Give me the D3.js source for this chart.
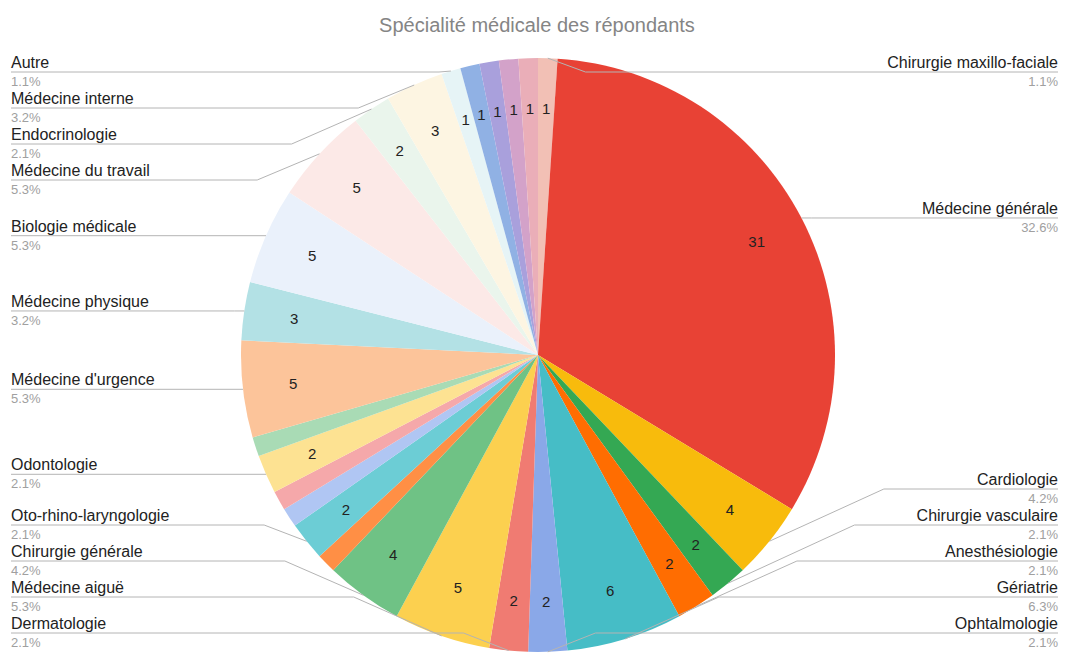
<!DOCTYPE html>
<html>
<head>
<meta charset="utf-8">
<script src="https://cdn.jsdelivr.net/npm/d3@7"></script>
<style>
  body { margin: 0; background: #fff; }
  svg { display: block; }
  text { font-family: "Liberation Sans", Arial, sans-serif; }
</style>
</head>
<body>
<svg id="chart" width="1066" height="653"></svg>
<script>
// Répartition des répondants par spécialité (ordre des parts, sens horaire depuis midi)
const specialites = [
  "Chirurgie maxillo-faciale", "Médecine générale", "Cardiologie", "Chirurgie vasculaire",
  "Anesthésiologie", "Gériatrie", "Ophtalmologie", "Dermatologie", "Médecine aiguë",
  "Chirurgie générale", "", "Oto-rhino-laryngologie", "", "", "Odontologie", "",
  "Médecine d'urgence", "Médecine physique", "Biologie médicale", "Médecine du travail",
  "Endocrinologie", "Médecine interne", "Autre", "", "", "", ""
];
const effectifs = [1, 31, 4, 2, 2, 6, 2, 2, 5, 4, 1, 2, 1, 1, 2, 1, 5, 3, 5, 5, 2, 3, 1, 1, 1, 1, 1];
const couleurs = [
  "#f2c0b5", "#e84235", "#f8bb0c", "#34a853", "#ff6d01", "#46bdc6", "#8aa8e8", "#f07b72",
  "#fcd04f", "#6fc285", "#ff8f45", "#6ccdd5", "#b0c6f3", "#f5a8aa", "#fde292", "#a9dbb5",
  "#fcc49a", "#b3e1e5", "#eaf1fb", "#fce9e7", "#eaf5ec", "#fdf5e2", "#e6f4f6",
  "#90b1e4", "#a9a0dc", "#d3a2c9", "#eaaeb8"
];
// parts trop fines pour porter leur effectif
const sansEffectif = [10, 12, 13, 15];
const titre = "Spécialité médicale des répondants";

const svg = d3.select("#chart");
const W = 1066;
const cx = 538, cy = 355, R = 297;

svg.append("text")
  .attr("x", 537).attr("y", 32)
  .attr("text-anchor", "middle")
  .attr("font-size", 20)
  .attr("fill", "#858585")
  .text(titre);

const total = d3.sum(effectifs);
const pie = d3.pie().sort(null).value(d => d);
const arcs = pie(effectifs);
const arc = d3.arc().innerRadius(0).outerRadius(R);

const g = svg.append("g").attr("transform", `translate(${cx},${cy})`);
g.selectAll("path.part")
  .data(arcs)
  .join("path")
  .attr("class", "part")
  .attr("d", arc)
  .attr("fill", (d, i) => couleurs[i]);

// effectifs écrits dans les parts
const arcTexte = d3.arc().innerRadius(R * 0.83).outerRadius(R * 0.83);
g.selectAll("text.val")
  .data(arcs.filter((d, i) => !sansEffectif.includes(i)))
  .join("text")
  .attr("class", "val")
  .attr("transform", d => `translate(${arcTexte.centroid(d)})`)
  .attr("text-anchor", "middle")
  .attr("dy", "0.35em")
  .attr("font-size", 15)
  .attr("fill", "#222")
  .text(d => d.value);

// étiquettes extérieures avec traits de rappel
const pct = d3.format(".1f");
const items = arcs.map((d, i) => {
  const a = (d.startAngle + d.endAngle) / 2;
  const px = cx + R * Math.sin(a), py = cy - R * Math.cos(a);
  return { i, nom: specialites[i], val: d.value, px, py, y0: py, gauche: Math.sin(a) < 0 };
}).filter(it => it.nom);

function repartir(liste, haut, bas, ecart) {
  liste.sort((a, b) => a.y0 - b.y0);
  let prec = haut - ecart;
  liste.forEach(it => { it.y = Math.max(it.y0, prec + ecart); prec = it.y; });
  let suiv = bas + ecart;
  for (let k = liste.length - 1; k >= 0; k--) {
    liste[k].y = Math.min(liste[k].y, suiv - ecart);
    suiv = liste[k].y;
  }
}
const gauche = items.filter(it => it.gauche);
const droite = items.filter(it => !it.gauche);
repartir(gauche, 72, 633, 36);
repartir(droite, 72, 633, 36);

const xG = 11, xD = W - 8;
const lab = svg.append("g");
[...gauche, ...droite].forEach(it => {
  const dy = Math.abs(it.py - it.y);
  const coude = it.gauche ? it.px - (10 + 2 * dy) : it.px + (10 + 2 * dy);
  const x0 = it.gauche ? xG : xD;
  lab.append("path")
    .attr("d", d3.line()([[x0, it.y], [coude, it.y], [it.px, it.py]]))
    .attr("fill", "none")
    .attr("stroke", "#b4b4b4")
    .attr("stroke-width", 1);
  lab.append("text")
    .attr("x", x0).attr("y", it.y - 4)
    .attr("text-anchor", it.gauche ? "start" : "end")
    .attr("font-size", 16)
    .attr("fill", "#222")
    .text(it.nom);
  lab.append("text")
    .attr("x", x0).attr("y", it.y + 14)
    .attr("text-anchor", it.gauche ? "start" : "end")
    .attr("font-size", 13)
    .attr("fill", "#a0a0a0")
    .text(pct(it.val / total * 100) + "%");
});
</script>
</body>
</html>
